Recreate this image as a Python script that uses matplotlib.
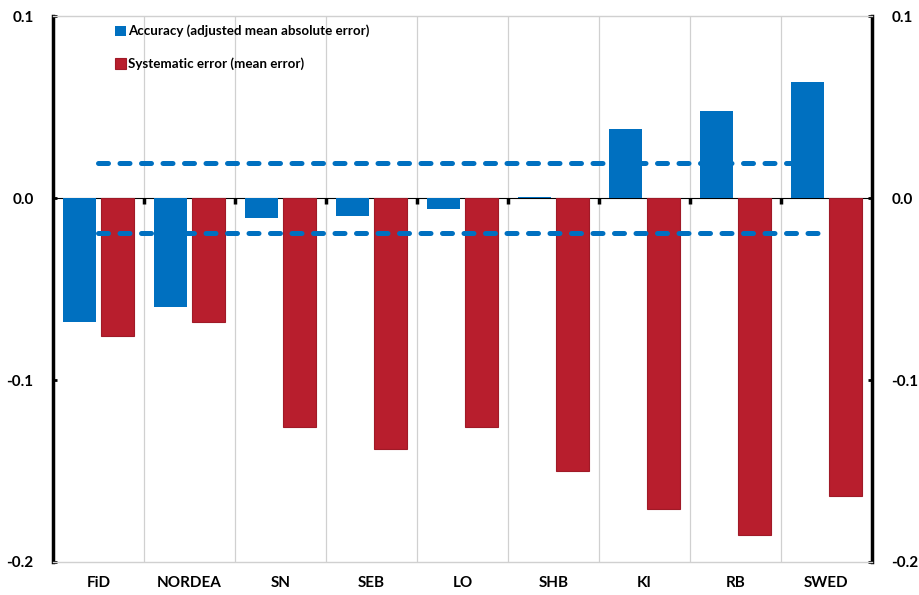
import matplotlib
matplotlib.use("Agg")
import matplotlib.pyplot as plt
import numpy as np

plt.rcParams['font.family'] = ['Lato', 'DejaVu Sans']

# data
categories = ['FiD', 'NORDEA', 'SN', 'SEB', 'LO', 'SHB', 'KI', 'RB', 'SWED']
accuracy = [-0.068, -0.060, -0.011, -0.010, -0.006, 0.0005, 0.038, 0.048, 0.064]
systematic = [-0.076, -0.068, -0.126, -0.138, -0.126, -0.150, -0.171, -0.185, -0.164]
band = 0.019

blue = '#0070C0'
red = '#B81E2D'

fig = plt.figure(figsize=(9.2, 5.95), dpi=100)
ax = fig.add_axes([0.0576, 0.0555, 0.8902, 0.9175])

x = np.arange(len(categories))
w = 0.37
ax.bar(x - 0.21, accuracy, w, color=blue, label='Accuracy (adjusted mean absolute error)', zorder=3)
ax.bar(x + 0.21, systematic, w, color=red, edgecolor='#A01A27', linewidth=0.8,
       label='Systematic error (mean error)', zorder=3)

# +/- band lines
for lvl in (band, -band):
    ax.plot([x[0], x[-1]], [lvl, lvl], color=blue, lw=3.6, ls=(0, (2.0, 2.3)),
            dash_capstyle='round', zorder=4)

ax.set_xlim(-0.5, len(categories) - 0.5)
ax.set_ylim(-0.2, 0.1)

# vertical grid at category boundaries
for b in np.arange(0.5, len(categories) - 0.5):
    ax.axvline(b, color='#D0D0D0', lw=0.9, zorder=0)

ax.set_xticks(x)
ax.set_xticklabels(categories, fontsize=11, fontweight='bold')
ax.tick_params(axis='x', length=0, pad=10)

ax.set_yticks([-0.2, -0.1, 0.0, 0.1])
ax.set_yticklabels(['-0.2', '-0.1', '0.0', '0.1'], fontsize=11, fontweight='bold')
ax.tick_params(axis='y', direction='in', length=3, width=2, left=True, right=True,
               labelleft=True, labelright=True, pad=14)

for s in ['left', 'right']:
    ax.spines[s].set_linewidth(2.5)
    ax.spines[s].set_color('black')
for s in ['top', 'bottom']:
    ax.spines[s].set_linewidth(1)
    ax.spines[s].set_color('#D0D0D0')

# zero line with small ticks at category boundaries
zero_ax = ax.secondary_xaxis(2 / 3)
zero_ax.spines['bottom'].set_linewidth(2.5)
zero_ax.spines['bottom'].set_color('black')
zero_ax.set_xticks(np.arange(0.5, len(categories) - 0.5))
zero_ax.set_xticklabels([])
zero_ax.tick_params(direction='in', length=4, width=2.5)

leg = ax.legend(loc='upper left', bbox_to_anchor=(0.061, 1.006), frameon=False,
                prop={'size': 9.6, 'weight': 'bold'}, handlelength=0.8, handleheight=0.8,
                handletextpad=0.2, labelspacing=1.5)

fig.savefig('out.png', dpi=100)
